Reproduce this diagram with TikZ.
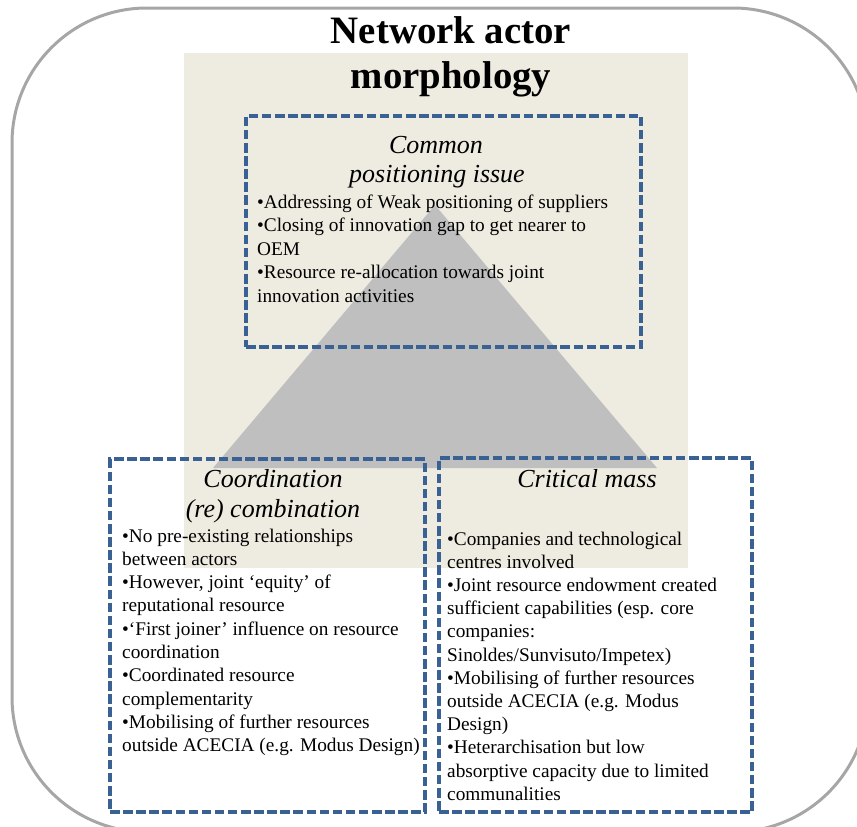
\documentclass[tikz,border=0pt]{standalone}
\usepackage{fontspec}
\setmainfont{Liberation Serif}
\definecolor{outergray}{HTML}{A6A6A6}
\definecolor{beige}{HTML}{EEECE1}
\definecolor{trigray}{HTML}{BFBFBF}
\definecolor{dashblue}{HTML}{3A6194}
\begin{document}
\begin{tikzpicture}[x=1pt,y=-1pt,
  outerframe/.style={draw=outergray, line width=3pt, rounded corners=135pt},
  dbox/.style={draw=dashblue, line width=3.2pt, dash pattern=on 9.5pt off 3.6pt, inner sep=0pt},
  titletext/.style={inner sep=0pt, anchor=base, font=\fontsize{38.8}{45}\selectfont\bfseries},
  headtext/.style={inner sep=0pt, anchor=base, font=\fontsize{26}{30}\selectfont\itshape},
  bodytext/.style={inner sep=0pt, anchor=base west},
]
\useasboundingbox (0,0) rectangle (857,827);
\clip (0,0) rectangle (857,827);
\draw[outerframe] (12,8) rectangle (868,832);
\fill[beige] (184,53) rectangle (688,568);
\fill[trigray] (435,205) -- (657,468) -- (213,468) -- cycle;

\node[dbox, minimum width=395pt, minimum height=231pt] (topbox) at (443.5,231.5) {};
\node[dbox, minimum width=315pt, minimum height=353pt] (leftbox) at (267.5,635.5) {};
\node[dbox, minimum width=313pt, minimum height=354pt] (rightbox) at (595.5,635) {};

\node[titletext] (title1) at (451,43) {Network actor};
\node[titletext] (title2) at (451,88) {morphology};

\node[headtext] (toph1) at (436,153) {Common};
\node[headtext] (toph2) at (437,182) {positioning issue};
\node[headtext] (lefth1) at (273,487) {Coordination};
\node[headtext] (lefth2) at (273,517) {(re) combination};
\node[headtext] (righth1) at (587,487) {Critical mass};

\node[bodytext] (topbody) at (257,208) {\parbox[t]{380pt}{\raggedright\fontsize{19.3}{23.5}\selectfont
•Addressing of Weak positioning of suppliers\\
•Closing of innovation gap to get nearer to\\
OEM\\
•Resource re-allocation towards joint\\
innovation activities}};

\node[bodytext] (leftbody) at (122,542) {\parbox[t]{300pt}{\raggedright\fontsize{19.3}{23.3}\selectfont
•No pre-existing relationships\\
between actors\\
•However, joint ‘equity’ of\\
reputational resource\\
•‘First joiner’ influence on resource\\
coordination\\
•Coordinated resource\\
complementarity\\
•Mobilising of further resources\\
outside ACECIA (e.g. Modus Design)}};

\node[bodytext] (rightbody) at (447,545) {\parbox[t]{300pt}{\raggedright\fontsize{19.3}{23.2}\selectfont
•Companies and technological\\
centres involved\\
•Joint resource endowment created\\
sufficient capabilities (esp. core\\
companies:\\
Sinoldes/Sunvisuto/Impetex)\\
•Mobilising of further resources\\
outside ACECIA (e.g. Modus\\
Design)\\
•Heterarchisation but low\\
absorptive capacity due to limited\\
communalities}};
\end{tikzpicture}
\end{document}
